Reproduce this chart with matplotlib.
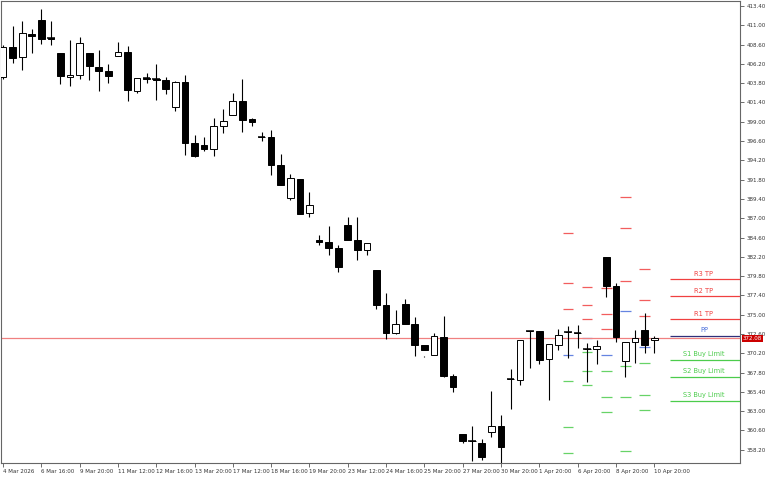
import matplotlib
matplotlib.use("Agg")
import matplotlib.pyplot as plt
import numpy as np

opens = [404.59,408.31,407.07,409.92,411.66,409.43,407.57,404.59,404.83,407.57,405.83,405.33,407.19,407.69,402.85,404.46,404.34,404.21,400.86,403.97,396.39,396.15,395.65,398.50,399.87,401.61,399.37,397.14,397.14,393.66,389.57,391.93,387.70,384.35,384.10,383.24,386.21,384.23,382.99,380.50,376.16,372.68,376.28,373.80,371.20,369.95,372.19,367.35,360.15,359.28,359.03,360.40,361.14,366.97,366.85,372.93,372.93,369.46,371.20,372.81,372.68,370.70,370.70,382.12,378.52,369.21,371.57,373.06,371.90]
highs = [408.56,410.92,411.54,410.54,413.03,411.54,407.57,409.18,409.55,407.57,407.94,406.20,408.93,408.43,404.46,405.08,406.20,404.59,404.09,404.83,397.39,397.14,399.50,400.61,402.60,404.34,399.50,397.76,398.01,395.03,392.55,391.93,390.31,384.85,385.97,383.61,387.21,387.21,383.86,380.50,377.65,375.54,376.91,374.67,369.83,372.68,374.79,367.60,360.15,361.14,359.53,365.49,362.51,368.22,371.81,372.93,372.93,371.32,373.18,373.55,373.68,371.44,371.81,382.12,378.89,371.57,373.06,375.17,372.40]
lows = [404.34,406.32,405.45,407.57,408.68,408.56,403.72,403.47,404.34,404.21,402.85,403.84,407.19,401.61,402.60,403.84,401.73,402.48,400.37,394.90,394.66,395.40,394.78,397.63,399.87,397.76,398.50,396.64,392.42,391.18,389.32,387.58,387.21,383.61,382.37,380.26,386.21,381.75,382.37,375.66,371.94,372.56,376.28,369.83,369.71,369.95,367.22,365.36,359.03,356.80,356.92,359.77,356.42,363.25,366.23,368.34,368.84,364.37,370.58,369.58,370.82,366.60,368.84,377.15,371.57,367.22,368.96,370.20,370.20]
closes = [408.31,406.94,410.05,409.68,409.30,409.30,404.71,404.83,408.81,405.95,405.33,404.71,407.69,402.97,404.46,404.34,404.21,403.10,403.97,396.39,394.78,395.65,398.50,399.12,401.61,399.25,399.00,397.14,393.66,391.18,392.05,387.58,388.70,384.10,383.24,380.88,384.35,382.99,383.86,376.16,372.68,373.80,373.80,371.20,370.58,372.31,367.35,365.98,359.28,359.28,357.29,361.14,358.53,366.97,371.81,372.93,369.33,371.32,372.44,372.81,372.68,370.70,371.07,378.52,372.19,371.57,372.06,371.20,372.08]

tick_labels = ["4 Mar 2026","6 Mar 16:00","9 Mar 20:00","11 Mar 12:00","12 Mar 16:00","13 Mar 20:00",
               "17 Mar 12:00","18 Mar 16:00","19 Mar 20:00","23 Mar 12:00","24 Mar 16:00","25 Mar 20:00",
               "27 Mar 20:00","30 Mar 20:00","1 Apr 20:00","6 Apr 20:00","8 Apr 20:00","10 Apr 20:00"]
y_ticks = [413.40,411.00,408.60,406.20,403.80,401.40,399.00,396.60,394.20,391.80,389.40,387.00,384.60,
           382.20,379.80,377.40,375.00,372.60,370.20,367.80,365.40,363.00,360.60,358.20]

# daily pivot history: candle index, R3,R2,R1,PP,S1,S2,S3
pivot_idx = [59, 61, 63, 65, 67]
pivot_hist = [
    [385.21, 378.89, 375.66, 369.95, 366.72, 361.02, 357.79],
    [378.39, 376.16, 374.42, 372.06, 370.33, 367.97, 366.23],
    [378.27, 375.04, 373.18, 369.95, 367.97, 364.74, 362.88],
    [389.69, 385.84, 379.14, 375.42, 368.59, 364.74, 358.04],
    [380.63, 376.78, 374.79, 370.95, 368.96, 365.04, 363.13],
]
current_levels = [379.39, 377.28, 374.42, 372.31, 369.33, 367.22, 364.24]
level_names = ["R3 TP", "R2 TP", "R1 TP", "PP", "S1 Buy Limit", "S2 Buy Limit", "S3 Buy Limit"]
bid = 372.08

RED, BLUE, GREEN = "#f04040", "#4a6fdc", "#4ccc4c"
lvl_colors = [RED, RED, RED, BLUE, GREEN, GREEN, GREEN]

fig = plt.figure(figsize=(7.68, 4.8), dpi=100)
ax = fig.add_axes([1/768, 17/480, 739/768, 462/480])
n = len(opens)
x = np.arange(n)
o = np.array(opens); c = np.array(closes)
ax.vlines(x, lows, highs, color="black", lw=0.8, zorder=2)
bull = c >= o
ax.bar(x[bull], (c - o)[bull], bottom=o[bull], width=0.7, facecolor="white", edgecolor="black", lw=0.7, zorder=3)
ax.bar(x[~bull], (o - c)[~bull], bottom=c[~bull], width=0.7, facecolor="black", edgecolor="black", lw=0.7, zorder=3)
doji = np.abs(c - o) < 0.15
ax.hlines(o[doji], x[doji] - 0.4, x[doji] + 0.4, color="black", lw=1.1, zorder=3)

for i, lv in zip(pivot_idx, pivot_hist):
    for v, col in zip(lv, lvl_colors):
        ax.hlines(v, i - 0.55, i + 0.55, color=col, lw=0.9, alpha=0.85, zorder=1)

ax.axhline(bid, color="#f08080", lw=0.9, zorder=1)
for v, col, name in zip(current_levels, lvl_colors, level_names):
    lc = "#30307a" if name == "PP" else col
    ax.hlines(v, 69.6, 77.5, color=lc, lw=0.9, zorder=2)
    ax.text(73.2, v + 0.35, name, color=col, fontsize=4.8, ha="center", va="bottom")

ax.set_xlim(-0.21, 76.96)
ax.set_ylim(356.55, 414.02)
ax.yaxis.tick_right()
ax.set_yticks(y_ticks)
ax.set_yticklabels([f"{v:.2f}" for v in y_ticks], fontsize=4.0, color="#333333")
ax.set_xticks(np.arange(0, n, 4))
ax.set_xticklabels(tick_labels, fontsize=4.0, color="#333333", ha="left")
ax.tick_params(axis="both", length=3, width=0.6, color="#555555", pad=1.5)
for s in ax.spines.values():
    s.set_color("#666666"); s.set_linewidth(0.8)
ax.text(1.004, bid, f"{bid:.2f}", transform=ax.get_yaxis_transform(), fontsize=4.0, color="white",
        va="center", ha="left", bbox=dict(boxstyle="square,pad=0.2", fc="#cc0000", ec="none"))
fig.savefig("out.png", dpi=100)
